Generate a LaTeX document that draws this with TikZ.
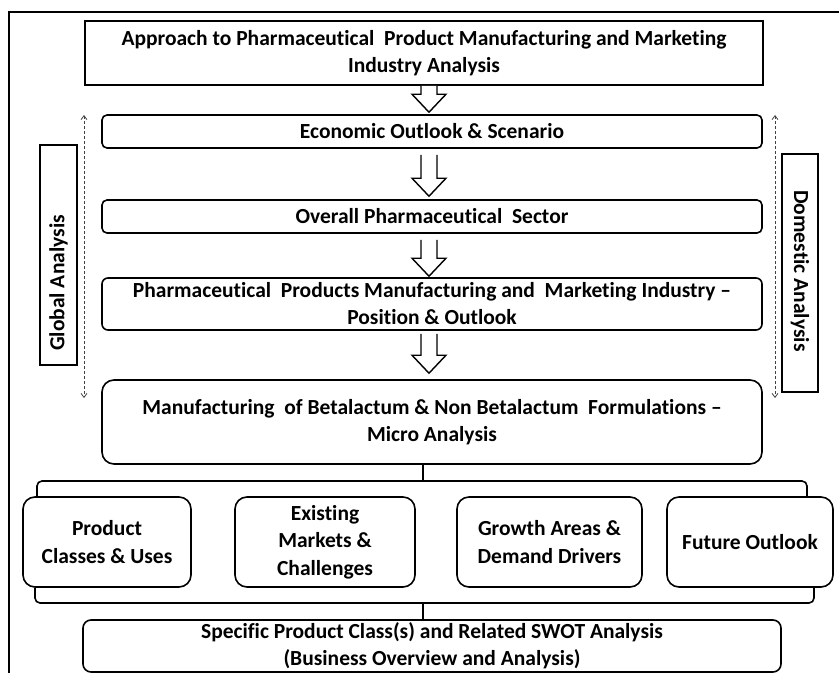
\documentclass[tikz,border=0pt]{standalone}
\usepackage{fontspec}
\setmainfont{Carlito}[Ligatures={NoCommon}]
\usetikzlibrary{arrows.meta,calc}

% Downward hollow block arrow between two points (same x)
\newcommand\blockarrow[2]{%
  \draw[barrow] let \p1=#1, \p2=#2 in
    (\x1-8pt,\y1) -- (\x1-8pt,\y2+18pt) -- (\x1-17pt,\y2+18pt) -- (\x1,\y2)
    -- (\x1+17pt,\y2+18pt) -- (\x1+8pt,\y2+18pt) -- (\x1+8pt,\y1);}

\begin{document}
\begin{tikzpicture}[x=1pt,y=-1pt,
  lbl/.style={font=\fontsize{21.5}{27}\selectfont\bfseries, align=center, text=black},
  sqbox/.style={draw, line width=1.6pt, inner sep=0pt, fill=white, lbl},
  rbox/.style={sqbox, rounded corners=#1},
  rbox/.default=5pt,
  subbox/.style={rbox=12pt, font=\fontsize{21.5}{27.5}\selectfont\bfseries},
  sidebox/.style={draw, line width=1.2pt, inner sep=0pt, lbl},
  barrow/.style={draw, line width=1.4pt, fill=white, line join=miter},
  conn/.style={line width=1.6pt},
  scope/.style={draw=black!75, line width=0.8pt, densely dashed,
    {Straight Barb[length=4pt,width=6pt]}-{Straight Barb[length=4pt,width=6pt]}}
]
\useasboundingbox (0,0) rectangle (839,673);

% outer frame (open to the right and bottom)
\draw[line width=1.3pt] (9,673) -- (9,12) -- (839,12);

% main chain of boxes
\node[sqbox, minimum width=678, minimum height=64] (title) at (424,53)
  {Approach to Pharmaceutical\ \ Product Manufacturing and Marketing\\Industry Analysis};
\node[rbox, minimum width=660, minimum height=33] (econ) at (432,131.5)
  {Economic Outlook \& Scenario};
\node[rbox, minimum width=660, minimum height=33] (sector) at (432,216.5)
  {Overall Pharmaceutical\ \ Sector};
\node[rbox=6pt, minimum width=660, minimum height=52] (industry) at (432,304)
  {Pharmaceutical\ \ Products Manufacturing and\ \ Marketing Industry --\\Position \& Outlook};
\node[rbox=12pt, minimum width=660, minimum height=84] (micro) at (432,422)
  {Manufacturing\ \ of Betalactum \& Non Betalactum\ \ Formulations --\\Micro Analysis};

% side labels
\node[sidebox, minimum width=37, minimum height=220] (global) at (58.5,255) {};
\node[lbl, rotate=90] (globaltxt) at ($(global.center)+(0,28)$) {Global Analysis};
\node[sidebox, minimum width=36, minimum height=238] (domestic) at (800,273) {};
\node[lbl, rotate=-90] (domestictxt) at ($(domestic.center)+(0,-2)$) {Domestic Analysis};

% scope arrows
\coordinate (gTop) at (84,115);  \coordinate (gBot) at (84,398);
\coordinate (dTop) at (775,115); \coordinate (dBot) at (775,398);
\draw[scope] (gTop) -- (gBot);
\draw[scope] (dTop) -- (dBot);

% block arrows down the chain
\coordinate (ax) at (429,0);
\blockarrow{(title.south -| ax)}{($(econ.north -| ax)+(0,-2)$)}
\blockarrow{($(econ.south -| ax)+(0,6)$)}{($(sector.north -| ax)+(0,-3)$)}
\blockarrow{($(sector.south -| ax)+(0,6)$)}{($(industry.north -| ax)+(0,-1)$)}
\blockarrow{($(industry.south -| ax)+(0,3)$)}{($(micro.north -| ax)+(0,-6)$)}

% bracket coordinates
\coordinate (upL) at (37,481);  \coordinate (upR) at (807,481);  \coordinate (upM) at (423,481);
\coordinate (loL) at (35,603);  \coordinate (loR) at (814,603);  \coordinate (loM) at (423,603);

% detail boxes
\node[subbox, minimum width=168, minimum height=90] (classes) at (107,542)
  {Product\\Classes \& Uses};
\node[subbox, minimum width=180, minimum height=90] (markets) at (325,542)
  {Existing\\Markets \&\\Challenges};
\node[subbox, minimum width=185, minimum height=90] (growth) at (549.5,542)
  {Growth Areas \&\\Demand Drivers};
\node[subbox, minimum width=166, minimum height=90] (future) at (750,542)
  {Future Outlook};

\node[rbox=8pt, minimum width=698, minimum height=52] (swot) at (432,646)
  {Specific Product\ Class(s) and Related SWOT Analysis\\(Business Overview and Analysis)};

% brackets gathering the detail boxes
\draw[conn, rounded corners=5pt] (upL |- classes.north) -- (upL) -- (upR) -- (upR |- future.north);
\draw[conn] (upM |- micro.south) -- (upM);
\draw[conn, rounded corners=5pt] (loL |- classes.south) -- (loL) -- (loR) -- (loR |- future.south);
\draw[conn] (loM) -- (loM |- swot.north);
\end{tikzpicture}
\end{document}
